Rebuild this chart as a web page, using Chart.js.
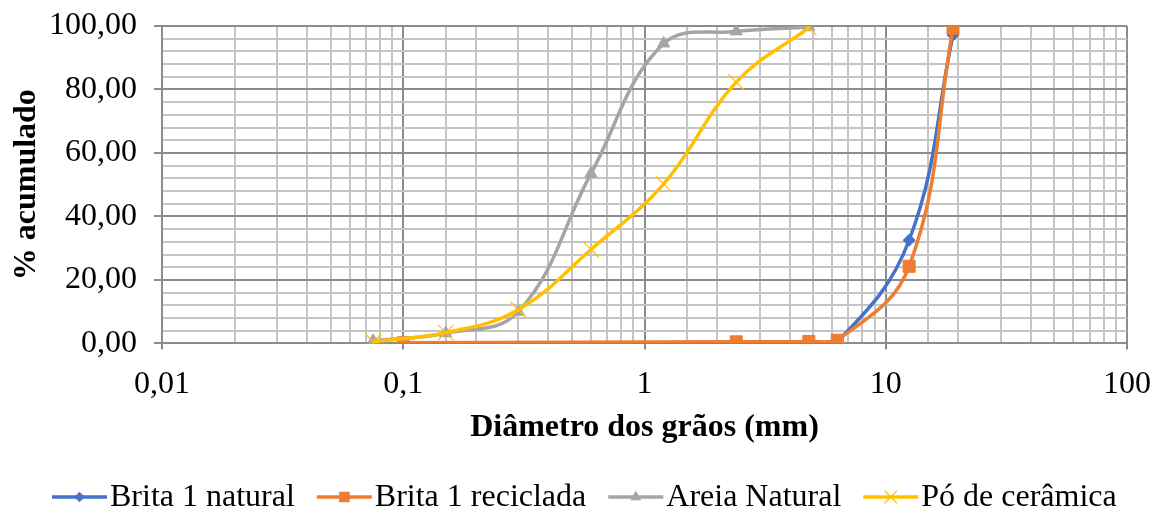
<!DOCTYPE html>
<html>
<head>
<meta charset="utf-8">
<script src="https://cdn.jsdelivr.net/npm/chart.js@4"></script>
<style>
  body { margin: 0; background: #fff; }
  canvas { display: block; }
</style>
</head>
<body>
<canvas id="curva" width="1154" height="514"></canvas>
<script>
// peneiras (mm)
const peneirasBrita = [0.1, 2.4, 4.8, 6.3, 12.5, 19];
const peneirasMiudo = [0.075, 0.15, 0.3, 0.6, 1.2, 2.4, 4.8];

// % acumulado
const britaNatural = [0, 0, 0, 0.5, 32.5, 97.2];
const britaReciclada = [0.2, 0.5, 0.6, 1.0, 24.3, 99.3];
const areiaNatural = [0.8, 3.2, 10.0, 53.5, 94.5, 98.3, 99.6];
const poCeramica = [0.5, 3.4, 10.6, 29.6, 50.2, 82.3, 99.5];

const nomesSeries = ['Brita 1 natural', 'Brita 1 reciclada', 'Areia Natural', 'Pó de cerâmica'];
const xTickLabels = ['0,01', '0,1', '1', '10', '100'];

const FONTE = '"Liberation Serif", "Times New Roman", serif';
const corMaior = '#8c8c8c';
const corMenor = '#c4c4c4';

function pontos(xs, ys) {
	return xs.map(function(x, i) { return {x: x, y: ys[i]}; });
}

function ehDecada(v) {
	const l = Math.log10(v);
	return Math.abs(l - Math.round(l)) < 1e-6;
}

// legenda embaixo: linha + marcador + texto
const legendaLinha = {
	id: 'legendaLinha',
	afterDraw: function(chart) {
		const ctx = chart.ctx;
		ctx.save();
		ctx.font = '32px ' + FONTE;
		ctx.textBaseline = 'middle';
		const tamLinha = 55, espTexto = 3, espItem = 22;
		let x = 52;
		const y = 497;
		chart.data.datasets.forEach(function(ds) {
			ctx.strokeStyle = ds.borderColor;
			ctx.lineWidth = 3.5;
			ctx.beginPath();
			ctx.moveTo(x, y);
			ctx.lineTo(x + tamLinha, y);
			ctx.stroke();
			ctx.fillStyle = ds.borderColor;
			ctx.lineWidth = ds.pointBorderWidth;
			Chart.helpers.drawPoint(ctx, {pointStyle: ds.pointStyle, radius: ds.pointRadius * 0.8, rotation: 0, borderWidth: ds.pointBorderWidth}, x + tamLinha / 2, y);
			ctx.fillStyle = '#000';
			ctx.fillText(ds.label, x + tamLinha + espTexto, y + 1);
			x += tamLinha + espTexto + ctx.measureText(ds.label).width + espItem;
		});
		ctx.restore();
	}
};

const ctx = document.getElementById('curva').getContext('2d');
const myChart = new Chart(ctx, {
	type: 'line',
	data: {
		datasets: [{
			label: nomesSeries[0],
			data: pontos(peneirasBrita, britaNatural),
			borderColor: '#4472C4',
			backgroundColor: '#4472C4',
			borderWidth: 3.5,
			pointStyle: 'rectRot',
			pointRadius: 6,
			pointBorderWidth: 1,
			order: 3
		}, {
			label: nomesSeries[1],
			data: pontos(peneirasBrita, britaReciclada),
			borderColor: '#ED7D31',
			backgroundColor: '#ED7D31',
			borderWidth: 3.5,
			pointStyle: 'rect',
			pointRadius: 8.5,
			pointBorderWidth: 1,
			order: 2
		}, {
			label: nomesSeries[2],
			data: pontos(peneirasMiudo, areiaNatural),
			borderColor: '#A5A5A5',
			backgroundColor: '#A5A5A5',
			borderWidth: 3.5,
			pointStyle: 'triangle',
			pointRadius: 7,
			pointBorderWidth: 1,
			order: 1
		}, {
			label: nomesSeries[3],
			data: pontos(peneirasMiudo, poCeramica),
			borderColor: '#FFC000',
			backgroundColor: '#FFC000',
			borderWidth: 3.5,
			pointStyle: 'crossRot',
			pointRadius: 11,
			pointBorderWidth: 1.2,
			order: 0
		}]
	},
	options: {
		responsive: false,
		animation: false,
		devicePixelRatio: 1,
		elements: {
			line: { tension: 0.4 }
		},
		layout: { padding: { left: 0, top: 26, right: 27, bottom: 61 } },
		plugins: {
			legend: { display: false },
			tooltip: { enabled: false }
		},
		scales: {
			x: {
				type: 'logarithmic',
				min: 0.01,
				max: 100,
				afterFit: function(scale) {
					scale.height = 109.6;
					scale.paddingLeft = 0;
					scale.paddingRight = 0;
				},
				grid: {
					color: function(c) { return c.tick && ehDecada(c.tick.value) ? corMaior : corMenor; },
					tickColor: function(c) { return c.tick && ehDecada(c.tick.value) ? corMaior : 'rgba(0,0,0,0)'; },
					lineWidth: 2,
					tickLength: 6
				},
				border: { color: corMaior, width: 2 },
				ticks: {
					autoSkip: false,
					maxRotation: 0,
					padding: 16,
					color: '#000',
					font: { family: FONTE, size: 32 },
					callback: function(value) {
						if (!ehDecada(value)) return '';
						return xTickLabels[Math.round(Math.log10(value)) + 2];
					}
				},
				title: {
					display: true,
					text: 'Diâmetro dos grãos (mm)',
					color: '#000',
					font: { family: FONTE, size: 32, weight: 'bold' },
					padding: { top: 0, bottom: 6 }
				}
			},
			y: {
				min: 0,
				max: 100,
				afterFit: function(scale) {
					scale.width = 162;
					scale.paddingTop = 0;
					scale.paddingBottom = 0;
				},
				grid: {
					color: function(c) { return c.tick && c.tick.value % 20 === 0 ? corMaior : corMenor; },
					tickColor: function(c) { return c.tick && c.tick.value % 20 === 0 ? corMaior : 'rgba(0,0,0,0)'; },
					lineWidth: 2,
					tickLength: 8
				},
				border: { color: corMaior, width: 2 },
				ticks: {
					stepSize: 4,
					autoSkip: false,
					padding: 17,
					color: '#000',
					font: { family: FONTE, size: 32 },
					callback: function(value) {
						if (value % 20 !== 0) return '';
						return value.toFixed(2).replace('.', ',');
					}
				},
				title: {
					display: true,
					text: '% acumulado',
					color: '#000',
					font: { family: FONTE, size: 32, weight: 'bold' },
					padding: { top: 8, bottom: 0 }
				}
			}
		}
	},
	plugins: [legendaLinha]
});
</script>
</body>
</html>
